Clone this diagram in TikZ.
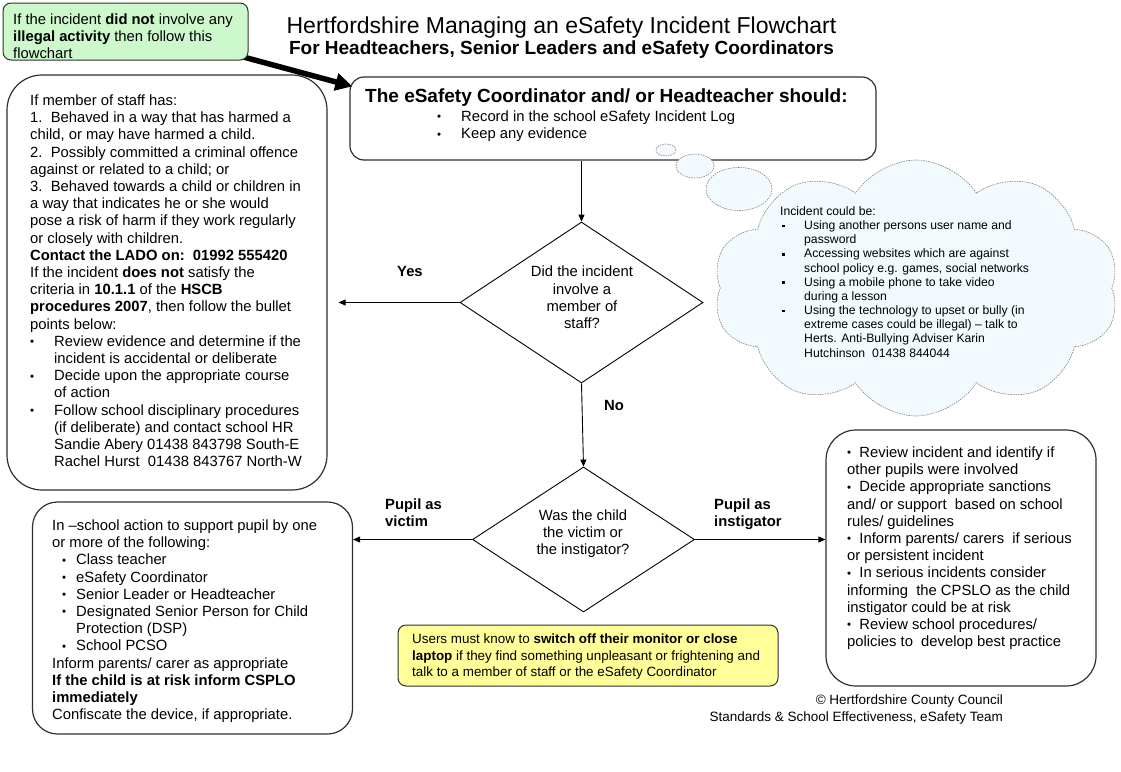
\documentclass[tikz,border=0pt]{standalone}
\usepackage{fontspec}
\setmainfont{Liberation Sans}
\usetikzlibrary{arrows.meta,shapes.geometric,shapes.symbols,calc}
\definecolor{greenfill}{HTML}{CCF8CC}
\definecolor{yellowfill}{HTML}{FFFF99}
\definecolor{cloudfill}{HTML}{F2FAFD}
\definecolor{boxline}{HTML}{303030}
\newcommand\blt[1]{\makebox[#1][l]{\raisebox{0.6pt}{\fontsize{11.5}{11.5}\selectfont\textbullet}}}
\newcommand\ind[1]{\hspace*{#1}}
\newcommand\vb{\hspace*{10pt}\blt{14pt}}
\newcommand\sbul{\raisebox{0.6pt}{\fontsize{11.5}{11.5}\selectfont\textbullet}\ \ }
\newcommand\sqb{\makebox[24pt][l]{\hspace*{2pt}\rule[2.2pt]{2.8pt}{2.8pt}}}
\newcommand\bodyfont{\fontsize{14.8}{17.2}\selectfont}
\begin{document}
\begin{tikzpicture}[x=1pt,y=-1pt,
  panel/.style={draw=boxline, line width=1.2pt, fill=white, inner sep=0},
  txt/.style={anchor=north west, inner sep=0, align=left, font=\bodyfont},
  lbl/.style={anchor=north west, inner sep=0, align=left, font=\bodyfont\bfseries},
  flow/.style={line width=0.9pt, -{Triangle[length=7pt,width=6pt]}},
  bubble/.style={ellipse, draw=gray, dash pattern=on 1.5pt off 1pt, line width=0.6pt, fill=cloudfill, inner sep=0},
  decision/.style={diamond, draw=black, line width=0.9pt, inner sep=0, aspect=1.5},
  dtext/.style={inner sep=0, align=center, font=\bodyfont},
  note/.style={draw=boxline, line width=1pt, rounded corners=8, inner sep=0}
]
\useasboundingbox (0,0) rectangle (1121,771);

% thought cloud
\node[cloud, cloud puffs=10, cloud puff arc=115, aspect=1.62, minimum width=406, minimum height=256,
      draw=gray, dash pattern=on 1.5pt off 1pt, line width=0.6pt, fill=cloudfill, inner sep=0] (cloud) at (916,288) {};
\node[txt, font=\fontsize{12.2}{14.15}\selectfont] (cloudtxt) at (780,206.5) {Incident could be:\\
\sqb Using another persons user name and\\
\ind{24pt}password\\
\sqb Accessing websites which are against\\
\ind{24pt}school policy e.g. games, social networks\\
\sqb Using a mobile phone to take video\\
\ind{24pt}during a lesson\\
\sqb Using the technology to upset or bully (in\\
\ind{24pt}extreme cases could be illegal) – talk to\\
\ind{24pt}Herts. Anti-Bullying Adviser Karin\\
\ind{24pt}Hutchinson\ \ 01438 844044};

% title
\node[font=\fontsize{23}{26}\selectfont, inner sep=0] (title) at (561.5,28) {Hertfordshire Managing an eSafety Incident Flowchart};
\node[font=\fontsize{19}{22}\selectfont\bfseries, inner sep=0] (subtitle) at (561.5,50) {For Headteachers, Senior Leaders and eSafety Coordinators};

% top box
\node[panel, rounded corners=14, minimum width=526, minimum height=83] (top) at (613,118.5) {};
\node[anchor=north west, inner sep=0, font=\fontsize{19}{22}\selectfont\bfseries] (tophead) at (365,89) {The eSafety Coordinator and/ or Headteacher should:};
\node[txt] (topitems) at (437,110.5) {\blt{24pt}Record in the school eSafety Incident Log\\ \blt{24pt}Keep any evidence};

% thought bubbles
\node[bubble, minimum width=66, minimum height=43] (bub3) at (739,189) {};
\node[bubble, minimum width=38, minimum height=24] (bub2) at (695,166) {};
\node[bubble, minimum width=20, minimum height=12] (bub1) at (666,150) {};

% green note and thick arrow
\coordinate (gtail) at (236,55);
\draw[line width=5.5pt, -{Triangle[length=17pt,width=17pt]}] (gtail) -- ($(top.north west)+(3,10)$);
\node[note, fill=greenfill, minimum width=245, minimum height=57] (green) at (125.5,31.5) {};
\begin{scope}
\clip (5,5) rectangle (246,58.5);
\node[txt] (greentxt) at (13,13.5) {If the incident \textbf{did not} involve any\\ \textbf{illegal activity} then follow this\\ flowchart};
\end{scope}

% left box (staff)
\node[panel, rounded corners=35, minimum width=320, minimum height=415] (staff) at (167,282.5) {};
\node[txt] (stafftxt) at (30,94.5) {If member of staff has:\\
1.\ \ Behaved in a way that has harmed a\\
child, or may have harmed a child.\\
2.\ \ Possibly committed a criminal offence\\
against or related to a child; or\\
3.\ \ Behaved towards a child or children in\\
a way that indicates he or she would\\
pose a risk of harm if they work regularly\\
or closely with children.\\
\textbf{Contact the LADO on:\ \ 01992 555420}\\
If the incident \textbf{does not} satisfy the\\
criteria in \textbf{10.1.1} of the \textbf{HSCB}\\
\textbf{procedures 2007}, then follow the bullet\\
points below:\\
\blt{24pt}Review evidence and determine if the\\
\ind{24pt}incident is accidental or deliberate\\
\blt{24pt}Decide upon the appropriate course\\
\ind{24pt}of action\\
\blt{24pt}Follow school disciplinary procedures\\
\ind{24pt}(if deliberate) and contact school HR\\
\ind{24pt}Sandie Abery 01438 843798 South-E\\
\ind{24pt}Rachel Hurst\ \ 01438 843767 North-W};

% decisions
\node[decision, minimum width=243, minimum height=161] (d1) at (581.5,302.5) {};
\node[dtext] (d1txt) at (582,297.5) {Did the incident\\involve a\\member of\\staff?};
\node[decision, minimum width=222, minimum height=145] (d2) at (583.5,539.5) {};
\node[dtext] (d2txt) at (583,533.5) {Was the child\\the victim or\\the instigator?};

% bottom-left box (victim)
\node[panel, rounded corners=25, minimum width=320, minimum height=232] (victim) at (192.5,618) {};
\node[txt] (victimtxt) at (52,519.5) {In –school action to support pupil by one\\
or more of the following:\\
\vb Class teacher\\
\vb eSafety Coordinator\\
\vb Senior Leader or Headteacher\\
\vb Designated Senior Person for Child\\
\ind{24pt}Protection (DSP)\\
\vb School PCSO\\
Inform parents/ carer as appropriate\\
\textbf{If the child is at risk inform CSPLO}\\
\textbf{immediately}\\
Confiscate the device, if appropriate.};

% right box (instigator)
\node[panel, rounded corners=30, minimum width=270, minimum height=256] (instig) at (961,558) {};
\node[txt] (instigtxt) at (847,446.5) {\sbul Review incident and identify if\\
other pupils were involved\\
\sbul Decide appropriate sanctions\\
and/ or support\ \ based on school\\
rules/ guidelines\\
\sbul Inform parents/ carers\ \ if serious\\
or persistent incident\\
\sbul In serious incidents consider\\
informing\ \ the CPSLO as the child\\
instigator could be at risk\\
\sbul Review school procedures/\\
policies to\ \ develop best practice};

% connectors
\draw[flow] (top.south -| d1.north) -- (d1.north);
\draw[flow, shorten >=11pt] (d1.west) -- (d1.west -| staff.east);
\draw[flow] (d1.south) -- (d2.north);
\draw[flow] (d2.west) -- (d2.west -| victim.east);
\draw[flow] (d2.east) -- (d2.east -| instig.west);

% labels
\node[lbl] (yes) at (397,266.5) {Yes};
\node[lbl] (no) at (604,400.5) {No};
\node[lbl] (pv) at (385,498.5) {Pupil as\\victim};
\node[lbl] (pi) at (714,498.5) {Pupil as\\instigator};

% yellow note
\node[note, fill=yellowfill, minimum width=380, minimum height=61] (yellow) at (588,655.5) {};
\node[txt, font=\fontsize{13.4}{16.5}\selectfont] (yellowtxt) at (412,634) {Users must know to \textbf{switch off their monitor or close}\\
\textbf{laptop} if they find something unpleasant or frightening and\\
talk to a member of staff or the eSafety Coordinator};

% footer
\node[anchor=north east, inner sep=0, align=right, font=\fontsize{13.5}{17}\selectfont] (footer) at (1003,695) {© Hertfordshire County Council\\ Standards \& School Effectiveness, eSafety Team};
\end{tikzpicture}
\end{document}
